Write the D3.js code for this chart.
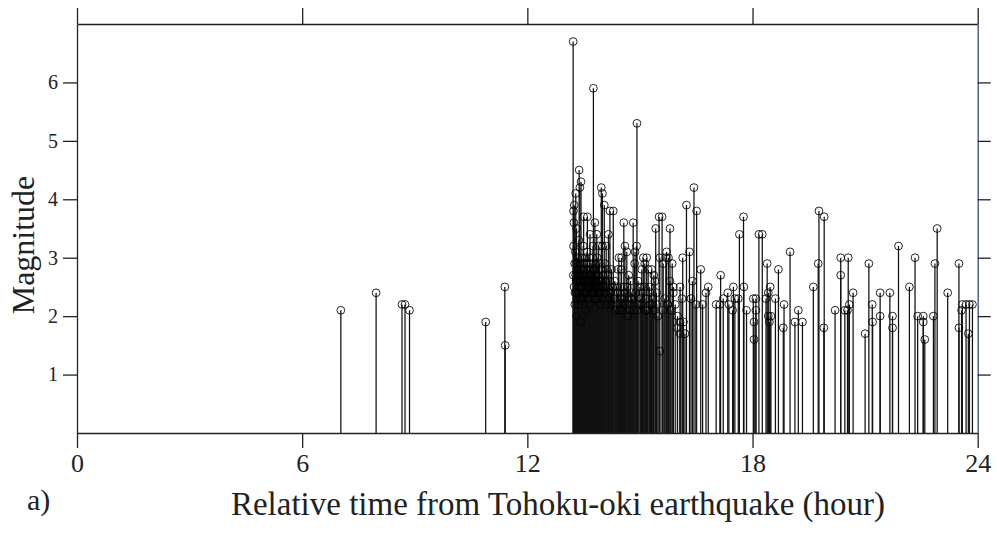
<!DOCTYPE html>
<html><head><meta charset="utf-8">
<script src="https://cdn.jsdelivr.net/npm/d3@7"></script>
<style>
html,body{margin:0;padding:0;background:#fff;}
svg{display:block;}
</style></head>
<body>
<svg id="chart" width="997" height="533"></svg>
<script>
// ---- Data (hours after mainshock, magnitude) ----
const foreshockTimes = [7.03, 7.97, 8.66, 8.74, 8.86, 10.89, 11.40, 11.41];
const foreshockMags  = [2.1,  2.4,  2.2,  2.2,  2.1,  1.9,   2.5,   1.5];

const burstTimes = [13.22,13.76,14.92,13.38,13.43,13.40,13.29,13.25,13.23,13.24,13.23,13.97,14.00,14.05,14.20,14.29,
  13.50,13.60,13.80,13.67,13.85,13.75,13.90,14.00,14.10,14.16,13.31,
  13.26,13.27,13.28,13.30,13.31,13.32,13.34,13.35,13.36,13.37,13.39,13.41,13.42,13.44,13.45,13.46,13.48,13.49,
  13.51,13.52,13.54,13.55,13.57,13.58,13.59,13.61,13.62,13.64,13.65,13.66,13.68,13.70,13.71,13.73,13.74,13.78,
  13.79,13.81,13.82,13.84,13.86,13.87,13.89,13.91,13.92,13.94,13.95,13.98,13.99,14.02,14.03,14.06,14.07,14.09,
  14.11,14.12,14.14,14.15,14.18,14.19,14.22,14.24,14.25,14.27,14.31,14.33,14.35,
  13.225,13.245,13.265,13.285,13.295,13.305,13.325,13.345,13.355,13.375,13.385,13.405,13.415,13.435,13.455,13.465,
  13.475,13.495,13.505,13.525,13.535,13.545,13.565,13.575,13.595,13.605,13.625,13.635,13.655,13.675,13.685,13.695,
  13.715,13.725,13.745,13.765,13.775,13.795,13.805,13.825,13.835,13.855,13.875,13.885,13.905,13.925,13.935];
const burstMags = [6.7,5.9,5.3,4.5,4.3,4.2,4.1,3.9,3.8,3.6,3.2,4.2,4.1,3.9,3.8,3.8,
  3.7,3.7,3.6,3.4,3.4,3.2,3.2,3.2,3.2,3.4,3.5,
  2.9,2.4,3.1,2.6,2.0,2.8,3.0,2.2,2.7,3.3,2.5,2.9,1.9,2.6,3.0,2.3,2.8,3.2,
  2.4,2.7,3.0,2.1,2.9,2.6,3.1,2.3,2.8,2.5,3.0,2.2,2.7,2.9,2.4,2.6,3.0,2.5,
  2.8,2.3,2.9,2.6,3.0,2.4,2.7,2.5,2.9,2.2,2.6,2.8,2.3,2.7,2.5,2.9,2.4,2.6,
  2.8,2.2,2.5,2.7,2.3,2.6,2.4,2.8,2.2,2.5,2.3,2.6,2.1,
  2.7,2.5,2.2,2.7,2.4,2.9,2.3,2.6,2.8,2.4,2.7,2.3,2.6,2.8,2.5,2.7,
  2.3,2.6,2.9,2.4,2.6,2.8,2.5,2.7,2.4,2.6,2.5,2.7,2.6,2.5,2.8,2.4,
  2.7,2.5,2.6,2.8,2.4,2.6,2.7,2.5,2.6,2.7,2.3,2.6,2.5,2.4,2.6];

const midTimes = [14.38,14.42,14.44,14.50,14.51,14.57,14.57,14.60,14.65,14.73,14.78,14.82,14.86,14.87,14.91,14.95,
  14.97,15.00,15.05,15.09,15.13,15.18,15.22,15.28,15.31,15.37,15.40,15.42,15.51,15.53,15.53,15.59,15.60,15.62,
  15.69,15.71,15.76,15.80,15.80,15.86,15.89,15.89,16.00,16.00,16.07,16.07,16.07,16.12,16.14,16.16,16.20,16.24,
  16.32,16.36,16.40,16.44,16.49,16.51,16.62,16.67,16.76,16.82,
  14.46,14.54,14.62,14.68,14.70,14.76,14.84,15.02,15.07,15.15,15.25,15.34,15.45,15.48,15.66,15.74,15.83,15.94,
  14.39,14.41,14.45,14.48,14.53,14.56,14.59,14.63,14.66,14.72,14.75,14.80,14.89,14.93,15.04,15.11,15.16,15.20,
  15.27,15.32,15.36,15.44];
const midMags = [2.5,2.8,3.0,2.8,3.0,3.6,2.5,3.2,3.1,2.2,2.4,3.6,2.9,3.1,3.2,2.6,
  2.2,2.5,2.8,3.0,2.9,3.0,2.8,2.2,2.8,2.7,2.6,3.5,3.7,3.0,1.4,3.7,2.1,2.9,
  3.0,3.1,3.0,3.5,2.6,2.9,2.5,2.4,2.0,1.8,2.5,1.9,1.7,2.3,3.0,1.9,1.7,3.9,
  3.1,2.3,2.6,4.2,2.2,3.8,2.8,2.2,2.4,2.5,
  2.3,2.1,2.4,2.0,2.7,2.3,2.1,2.3,2.4,2.1,2.5,2.3,2.2,2.0,2.3,2.2,2.1,2.2,
  2.2,2.4,2.1,2.5,2.3,2.2,2.4,2.2,2.5,2.1,2.6,2.3,2.4,2.1,2.2,2.5,2.3,2.1,
  2.4,2.2,2.1,2.4];

const lateTimes = [17.03,17.13,17.15,17.22,17.34,17.37,17.49,17.47,17.53,17.62,17.65,17.76,17.77,17.84,18.02,18.09,
  18.04,18.09,18.04,18.17,18.26,18.39,18.36,18.42,18.47,18.42,18.49,18.45,18.61,18.69,18.84,18.82,19.00,19.13,
  19.33,19.22,19.62,19.75,19.77,19.91,19.90,20.20,20.35,20.55,20.35,20.46,20.53,20.58,20.68,21.00,21.10,21.19,
  21.20,21.40,21.40,21.66,21.73,21.73,21.89,22.18,22.33,22.40,22.55,22.55,22.59,22.82,22.86,22.92,23.20,23.50,
  23.50,23.57,23.59,23.69,23.78,23.86,23.75];
const lateMags = [2.2,2.2,2.7,2.3,2.4,2.2,2.5,2.1,2.3,2.3,3.4,3.7,2.5,2.1,2.3,2.3,
  1.9,2.1,1.6,3.4,3.4,2.9,2.3,2.4,2.5,2.0,2.0,1.9,2.3,2.8,2.2,1.8,3.1,1.9,
  1.9,2.1,2.5,2.9,3.8,3.7,1.8,2.1,3.0,3.0,2.7,2.1,2.1,2.2,2.4,1.7,2.9,2.2,
  1.9,2.4,2.0,2.4,2.0,1.8,3.2,2.5,3.0,2.0,2.0,1.9,1.6,2.0,2.9,3.5,2.4,2.9,
  1.8,2.1,2.2,2.2,2.2,2.2,1.7];

const xTicks = [0, 6, 12, 18, 24];
const yTicks = [1, 2, 3, 4, 5, 6];
const xTitle = "Relative time from Tohoku-oki earthquake (hour)";
const yTitle = "Magnitude";
const panelLabel = "a)";

// ---- Build events ----
const times = [].concat(foreshockTimes, burstTimes, midTimes, lateTimes);
const mags  = [].concat(foreshockMags, burstMags, midMags, lateMags);
const events = times.map((t, i) => ({t, m: mags[i]}));

// ---- Layout ----
const svg = d3.select("#chart");
const L = 77, R = 977.7, T = 24, B = 433;
const x = d3.scaleLinear().domain([0, 24]).range([L, R]);
const y = d3.scaleLinear().domain([0, 7]).range([B, T]);
const font = "'Liberation Serif','Times New Roman',serif";
const axisColor = "#222";

// stems
svg.append("g").selectAll("line").data(events).join("line")
  .attr("x1", d => x(d.t)).attr("x2", d => x(d.t))
  .attr("y1", y(0)).attr("y2", d => y(d.m))
  .attr("stroke", "#111").attr("stroke-width", 1.25);

// circles
svg.append("g").selectAll("circle").data(events).join("circle")
  .attr("cx", d => x(d.t)).attr("cy", d => y(d.m)).attr("r", 3.9)
  .attr("fill", "none").attr("stroke", "#000").attr("stroke-width", 0.85);

function styleAxis(g, fs) {
  g.attr("font-family", font).attr("font-size", fs);
  g.select(".domain").attr("stroke", axisColor).attr("stroke-width", 1.3);
  g.selectAll(".tick line").attr("stroke", axisColor).attr("stroke-width", 1.3);
  g.selectAll(".tick text").attr("fill", "#222").style("font-family", font).style("font-size", fs + "px");
}

// bottom
svg.append("g").attr("transform", `translate(0,${B})`)
  .call(d3.axisBottom(x).tickValues(xTicks).tickFormat(d3.format("d")).tickSize(15).tickSizeOuter(0).tickPadding(6))
  .call(g => styleAxis(g, 26));
// top
svg.append("g").attr("transform", `translate(0,${T})`)
  .call(d3.axisTop(x).tickValues(xTicks).tickFormat("").tickSize(16).tickSizeOuter(0))
  .call(g => styleAxis(g, 26));
// left
svg.append("g").attr("transform", `translate(${L},0)`)
  .call(d3.axisLeft(y).tickValues(yTicks).tickFormat(d3.format("d")).tickSize(14).tickSizeOuter(0).tickPadding(5))
  .call(g => styleAxis(g, 20));
// right
svg.append("g").attr("transform", `translate(${R},0)`)
  .call(d3.axisRight(y).tickValues(yTicks).tickFormat("").tickSize(13).tickSizeOuter(0))
  .call(g => { styleAxis(g, 20); g.select(".domain").attr("stroke", "#3b4a86"); });

// titles
svg.append("text").attr("x", 558).attr("y", 515).attr("text-anchor", "middle")
  .style("font-family", font).style("font-size", "33px").attr("fill", "#222").text(xTitle);
svg.append("text").attr("transform", "translate(34,245) rotate(-90)").attr("text-anchor", "middle")
  .style("font-family", font).style("font-size", "32px").attr("fill", "#222").text(yTitle);
svg.append("text").attr("x", 27).attr("y", 510)
  .style("font-family", font).style("font-size", "30px").attr("fill", "#222").text(panelLabel);
</script>
</body></html>
